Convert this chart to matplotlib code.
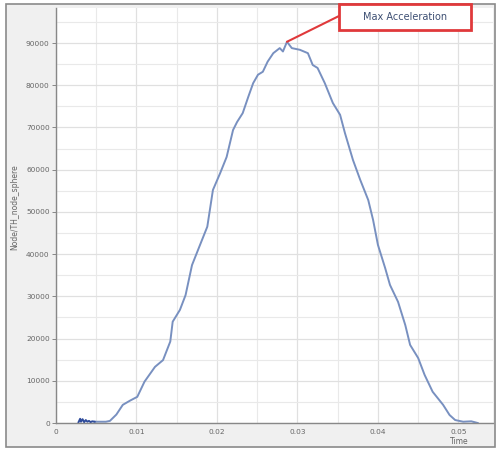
import matplotlib
matplotlib.use("Agg")
import matplotlib.pyplot as plt
from matplotlib.patches import Rectangle

# ---- data ----
noise_t = [0.0028, 0.0030, 0.0031, 0.0033, 0.0035, 0.0037, 0.0039, 0.0041, 0.0043, 0.0045, 0.0048]
noise_v = [200, 1000, 300, 900, 200, 700, 300, 500, 200, 400, 300]

time = [0.0048, 0.0055, 0.0062, 0.0067, 0.0075, 0.0083, 0.0092, 0.0101, 0.0110, 0.0123,
        0.0133, 0.0142, 0.0145, 0.0154, 0.0161, 0.0169, 0.0179, 0.0188, 0.0195, 0.0204,
        0.0212, 0.0220, 0.0225, 0.0232, 0.0239, 0.0245, 0.0251, 0.0257, 0.0263, 0.0270,
        0.0278, 0.0282, 0.0287, 0.0293, 0.0303, 0.0313, 0.0319, 0.0325, 0.0334, 0.0344,
        0.0353, 0.0359, 0.0369, 0.0378, 0.0388, 0.0394, 0.0400, 0.0409, 0.0415, 0.0425,
        0.0434, 0.0440, 0.0450, 0.0458, 0.0468, 0.0481, 0.0489, 0.0496, 0.0506, 0.0516, 0.0524]
accel = [300, 300, 300, 500, 2000, 4300, 5300, 6200, 9800, 13300,
         14900, 19300, 24000, 26800, 30300, 37400, 42200, 46500, 55200, 59200,
         63000, 69400, 71300, 73400, 77300, 80500, 82500, 83200, 85600, 87600,
         88800, 88000, 90300, 88800, 88400, 87600, 84800, 84100, 80500, 75800,
         73000, 68700, 62300, 57600, 52800, 48100, 42200, 36700, 32700, 28700,
         23200, 18500, 15400, 11400, 7400, 4300, 1900, 700, 300, 400, 0]

x_ticks = [0, 0.01, 0.02, 0.03, 0.04, 0.05]
x_labels = ["0", "0.01", "0.02", "0.03", "0.04", "0.05"]
y_ticks = [0, 10000, 20000, 30000, 40000, 50000, 60000, 70000, 80000, 90000]
y_labels = ["0", "10000", "20000", "30000", "40000", "50000", "60000", "70000", "80000", "90000"]

W, H = 497, 450
fig = plt.figure(figsize=(W / 100, H / 100), dpi=100)
fig.patch.set_facecolor("white")

# outer frame with light grey background
fig.patches.append(Rectangle((6 / W, 3 / H), 489 / W, 443 / H, transform=fig.transFigure,
                             facecolor="#f0f0f0", edgecolor="#8a8a8a", linewidth=1.2, zorder=-5))

ax = fig.add_axes([56 / W, (H - 423) / H, 437 / W, (423 - 8) / H])
ax.set_zorder(1)
ax.set_facecolor("white")
ax.set_xlim(0, 0.0543)
ax.set_ylim(0, 98300)

ax.set_xticks(x_ticks)
ax.set_xticklabels(x_labels)
ax.set_yticks(y_ticks)
ax.set_yticklabels(y_labels)
ax.set_xticks([0.005, 0.015, 0.025, 0.035, 0.045], minor=True)
ax.set_yticks([5000, 15000, 25000, 35000, 45000, 55000, 65000, 75000, 85000, 95000], minor=True)
ax.grid(True, which="major", color="#e0e0e0", linewidth=0.9)
ax.grid(True, which="minor", color="#e9e9e9", linewidth=0.8)
ax.set_axisbelow(True)

ax.tick_params(axis="both", which="major", labelsize=5.3, colors="#777777", length=3, width=0.6,
               labelcolor="#666666", pad=1.5)
ax.tick_params(axis="both", which="minor", length=0)
ax.tick_params(axis="x", length=0, pad=4)

for s in ["top", "right"]:
    ax.spines[s].set_visible(False)
for s in ["left", "bottom"]:
    ax.spines[s].set_color("#888888")
    ax.spines[s].set_linewidth(1.0)

ax.plot(time, accel, color="#7890c0", linewidth=1.4, solid_joinstyle="round")
ax.plot(noise_t, noise_v, color="#2f4c9c", linewidth=1.4)

ax.set_ylabel("Node/TH_node_sphere", fontsize=5.5, color="#666666", labelpad=6)
ax.yaxis.set_label_coords(-0.085, 0.52)
fig.text(459 / W, 1 - 441 / H, "Time", fontsize=5.5, color="#666666", ha="center", va="center")

# annotation: line from peak to a red box
i_peak = accel.index(max(accel))
peak_t, peak_v = time[i_peak], accel[i_peak]
bx0, by0, bw, bh = 339 / W, 1 - 30 / H, 132 / W, 26 / H
ax.annotate("", xy=(peak_t, peak_v), xycoords="data",
            xytext=(bx0, 1 - 16 / H), textcoords="figure fraction",
            arrowprops=dict(arrowstyle="-", color="#e0393b", linewidth=1.5, shrinkA=0, shrinkB=0),
            annotation_clip=False)
fig.patches.append(Rectangle((bx0, by0), bw, bh, transform=fig.transFigure,
                             facecolor="white", edgecolor="#e0393b", linewidth=2.0, zorder=5))
fig.text(bx0 + bw / 2, by0 + bh / 2, "Max Acceleration", fontsize=7, color="#3d4f73",
         ha="center", va="center", zorder=6)

fig.savefig("out.png", dpi=100)
